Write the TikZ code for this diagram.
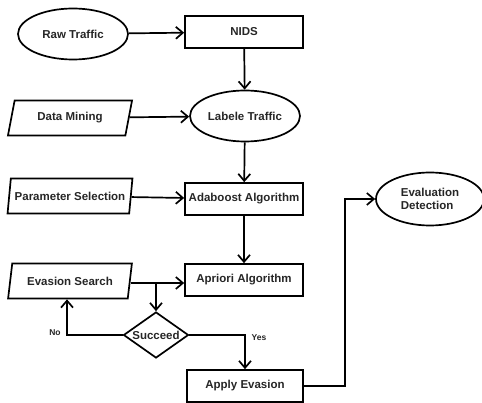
\documentclass[tikz,border=0pt]{standalone}
\usepackage{fontspec}
\setmainfont{Liberation Sans}
\usetikzlibrary{shapes.geometric,arrows.meta}
\begin{document}
\begin{tikzpicture}
    [
      x=1pt,
      y=-1pt,
      line width=1.7pt,
      >={Straight Barb[length=7pt,width=12pt]},
      every node/.style=
      {
        text=black!85,
        font=\fontsize{11.5}{13}\selectfont\bfseries
      },
      proc/.style=
      {
        draw,
        rectangle,
        inner sep=0pt,
        minimum width=118pt,
        minimum height=32pt
      },
      term/.style=
      {
        draw,
        ellipse,
        inner sep=0pt,
        minimum width=110pt,
        minimum height=51pt
      },
      inout/.style=
      {
        draw,
        trapezium,
        trapezium left angle=70,
        trapezium right angle=110,
        trapezium stretches=true,
        inner sep=0pt,
        minimum width=125pt,
        minimum height=35pt
      },
      decide/.style=
      {
        draw,
        diamond,
        aspect=1.4,
        inner sep=0pt,
        minimum width=65pt,
        minimum height=46pt
      },
      tag/.style=
      {
        font=\fontsize{8.5}{9}\selectfont\bfseries
      }
    ]
    \useasboundingbox (0,0) rectangle (482,403);

    \node[term](RawTraffic) at (73,34) {Raw Traffic};
    \node[proc](Nids) at (244,32) {NIDS};
    \node[inout](DataMining) at (70,118) {Data Mining};
    \node[term](LabeleTraffic) at (245,116) {Labele Traffic};
    \node[inout](ParamSel) at (70,196) {Parameter Selection};
    \node[proc](Adaboost) at (244,199) {Adaboost Algorithm};
    \node[inout](EvasionSearch) at (70,281) {Evasion Search};
    \node[proc](Apriori) at (244,280) {Apriori Algorithm};
    \node[decide](Succeed) at (156,335) {Succeed};
    \node[proc, minimum width=116pt](ApplyEvasion) at (245,386) {Apply Evasion};
    \node[term, align=left, minimum width=108pt, minimum height=53pt](EvalDet) at (430,199)
    {
      Evaluation\\Detection
    };

    \coordinate (Branch) at (156,283);
    \coordinate (Riser) at (345,386);

    \draw[->] (RawTraffic) -- (Nids);
    \draw[->] (Nids) -- (LabeleTraffic);
    \draw[->] (DataMining) -- (LabeleTraffic);
    \draw[->] (LabeleTraffic) -- (Adaboost);
    \draw[->] (ParamSel) -- (Adaboost);
    \draw[->] (Adaboost) -- (Apriori);
    \draw[->] (EvasionSearch.east |- Branch) -- (Apriori.west |- Branch);
    \draw[->] (Branch) -- (Succeed.north);
    \draw[->] (Succeed.west) -| ([xshift=-3pt]EvasionSearch.south);
    \draw[->] (Succeed.east) -| (ApplyEvasion.north);
    \draw[->] (ApplyEvasion.east) -- (Riser) |- (EvalDet.west);

    \node[tag](NoTag) at (55,333) {No};
    \node[tag](YesTag) at (259,338) {Yes};
  \end{tikzpicture}
\end{document}
